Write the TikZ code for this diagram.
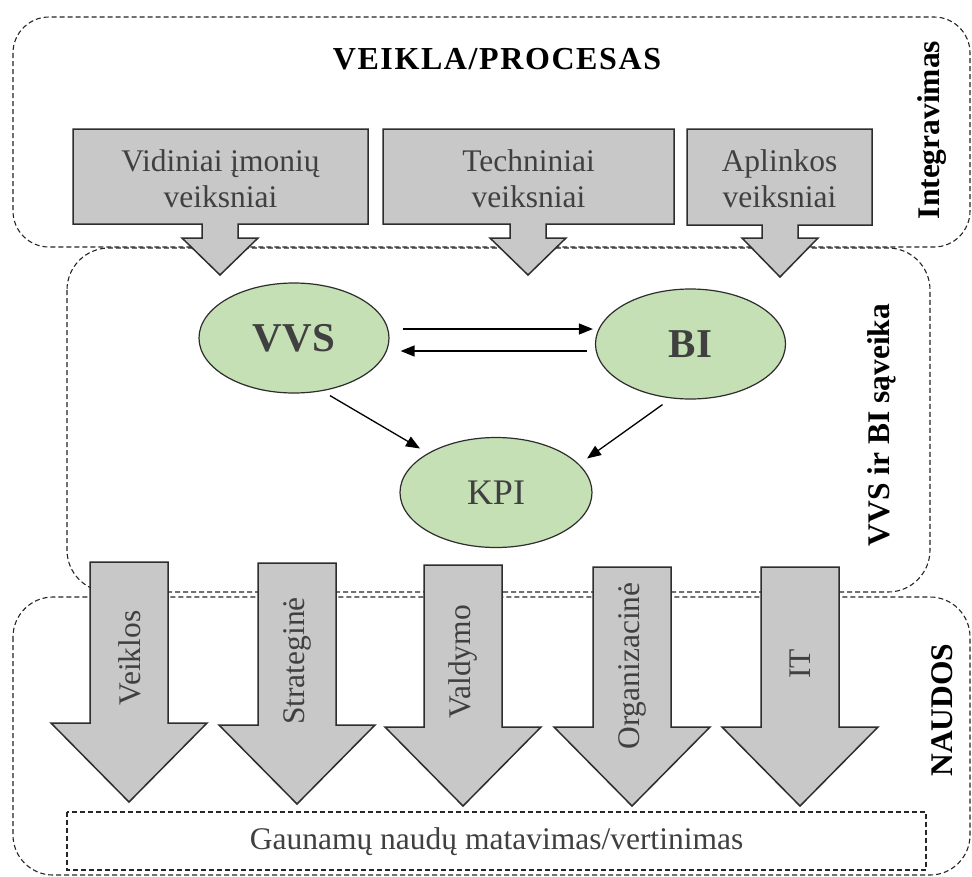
\documentclass[tikz,border=0pt]{standalone}
\usepackage{fontspec}
\setmainfont{Liberation Serif}
\usetikzlibrary{shapes.geometric,arrows.meta,calc}
\definecolor{boxgray}{RGB}{200,200,200}
\definecolor{ellgreen}{RGB}{197,224,180}
\definecolor{txtgray}{RGB}{64,64,64}
\definecolor{edgegray}{RGB}{45,45,45}
\begin{document}
\begin{tikzpicture}[x=1pt,y=-1pt,
  zone/.style={draw=black!85, line width=1.1pt, dash pattern=on 5pt off 3pt},
  shapebox/.style={fill=boxgray, draw=edgegray, line width=1.5pt, line join=miter},
  ell/.style={ellipse, fill=ellgreen, draw=edgegray, line width=1.2pt, minimum width=190pt, minimum height=110pt, inner sep=0pt, text=txtgray},
  lbl/.style={text=txtgray, font=\fontsize{31.5}{36}\selectfont, align=center, inner sep=0pt},
  side/.style={font=\bfseries\fontsize{31.5}{35}\selectfont, rotate=90, inner sep=0pt},
  conn/.style={line width=1.3pt, draw=black, -{Triangle[length=14pt,width=11pt]}}
]
\useasboundingbox (0,0) rectangle (972,876);
\fill[white] (0,0) rectangle (972,876);

% zones
\draw[zone, rounded corners=36pt] (13,17) rectangle (970,247);
\draw[zone, rounded corners=42pt] (67,248) rectangle (930,592);
\draw[zone, rounded corners=40pt] (13,597) rectangle (970,875);
\draw[zone] (67,812) rectangle (926,870);

% top boxes with arrows
\foreach \xa/\xb/\c/\yb/\tp in {73/368/220/224/275, 383/674/528/224/275, 687/872/780/225/277}{
  \draw[shapebox] (\xa,129) -- (\xb,129) -- (\xb,\yb) -- (\c+18,\yb) -- (\c+18,238) -- (\c+38,238)
     -- (\c,\tp) -- (\c-38,238) -- (\c-18,238) -- (\c-18,\yb) -- (\xa,\yb) -- cycle;
}
\node[lbl] (f1) at (220.5,179) {Vidiniai įmonių\\veiksniai};
\node[lbl] (f2) at (528.5,179) {Techniniai\\veiksniai};
\node[lbl] (f3) at (779.5,179) {Aplinkos\\veiksniai};

% big arrows
\foreach \c/\t/\h/\tp in {129/562/723/802, 297/563/725/804, 463/565/727/806, 632/567/727/806, 800/567/727/806}{
  \draw[shapebox] (\c-39,\t) -- (\c+39,\t) -- (\c+39,\h) -- (\c+78,\h) -- (\c,\tp) -- (\c-78,\h) -- (\c-39,\h) -- cycle;
}
\node[lbl, rotate=90] (b1) at (130,658) {Veiklos};
\node[lbl, rotate=90] (b2) at (297,661) {Strateginė};
\node[lbl, rotate=90] (b3) at (463,662) {Valdymo};
\node[lbl, rotate=90] (b4) at (632,666) {Organizacinė};
\node[lbl, rotate=90] (b5) at (800,664) {IT};

% title and side labels
\node[font=\bfseries\fontsize{32}{36}\selectfont\addfontfeature{LetterSpace=5}, inner sep=0pt] (title) at (497,59) {VEIKLA/PROCESAS};
\node[side] (integ) at (932,130) {Integravimas};
\node[side] (sav) at (882,425) {VVS ir BI sąveika};
\node[side] (naud) at (942,710) {NAUDOS};

% ellipses
\node[ell, font=\bfseries\fontsize{41}{44}\selectfont] (vvs) at (294,338) {VVS};
\node[ell, font=\bfseries\fontsize{41}{44}\selectfont] (bi) at (690.5,344) {BI};
\node[ell, minimum width=192pt, font=\fontsize{36}{40}\selectfont] (kpi) at (496,492.5) {KPI};

\draw[conn] ($(vvs.east)+(13,-9)$) -- ($(bi.west)+(-2,-15)$);
\draw[conn] ($(bi.west)+(-8,7)$) -- ($(vvs.east)+(11,13)$);
\draw[conn] ($(vvs.south)+(36,2)$) -- ($(kpi.center)+(-76,-44)$);
\draw[conn] ($(bi.south)+(-28,5)$) -- ($(kpi.center)+(91,-34)$);

% bottom label
\node[lbl] (meas) at (496.5,842) {Gaunamų naudų matavimas/vertinimas};
\end{tikzpicture}
\end{document}
